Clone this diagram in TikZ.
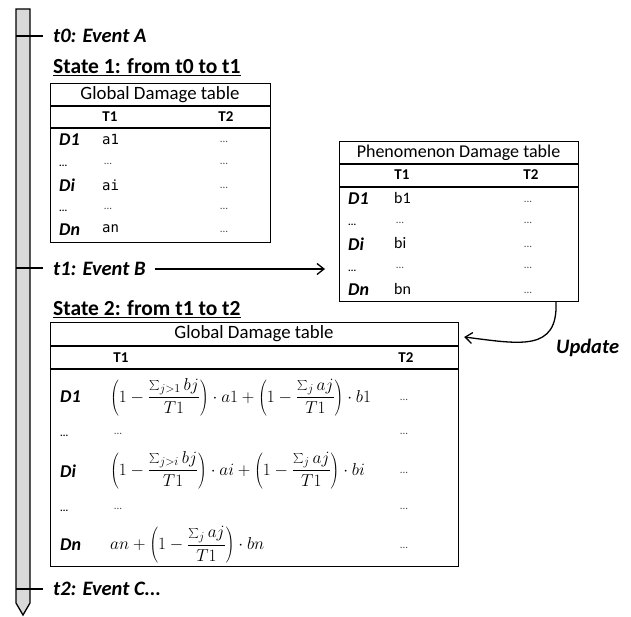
\documentclass[tikz,border=0pt]{standalone}
\usepackage{fontspec}
\setmainfont{Carlito}
\newfontfamily\monof{DejaVu Sans Mono}
\usetikzlibrary{arrows.meta}
\begin{document}
\begin{tikzpicture}[x=1pt,y=-1pt,
  lbl/.style={font=\fontsize{20.5}{23}\selectfont\bfseries\itshape, anchor=west, inner sep=0},
  stlbl/.style={font=\fontsize{21.5}{24}\selectfont\bfseries, anchor=west, inner sep=0},
  tbox/.style={draw, line width=1.2pt, anchor=north west, inner sep=0},
  tline/.style={line width=1.2pt},
  ttl/.style={font=\fontsize{18.8}{20}\selectfont, inner sep=0},
  hdr/.style={font=\fontsize{15}{17}\selectfont\bfseries, inner sep=0},
  dl/.style={font=\fontsize{18}{20}\selectfont\bfseries\itshape, anchor=west, inner sep=0},
  ddots/.style={font=\fontsize{10}{12}\selectfont\bfseries, anchor=west, inner sep=0},
  av/.style={font=\monof\fontsize{14}{16}\selectfont, anchor=west, inner sep=0},
  bv/.style={font=\fontsize{16}{18}\selectfont, anchor=west, inner sep=0},
  vdots/.style={font=\fontsize{11}{13}\selectfont, inner sep=0, text=black!70},
  fm/.style={font=\fontsize{17.3}{19}\selectfont, anchor=west, inner sep=0},
  arr/.style={-{Straight Barb[length=7pt,width=11pt]}, line width=1.3pt},
]
\useasboundingbox (0,0) rectangle (631,617);

% timeline bar
\draw[fill=black!15, line width=1.3pt] (16,9) -- (30,9) -- (30,603) -- (23,615) -- (16,603) -- cycle;
\draw[line width=1.3pt] (16,36) -- (43,36);
\draw[line width=1.3pt] (16,268) -- (43,268);
\draw[line width=1.3pt] (16,589) -- (43,589);

% labels
\node[lbl] (evA) at (53,36) {t0: Event A};
\node[stlbl] (st1) at (53,67) {\underline{State 1: from t0 to t1}};
\node[lbl] (evB) at (53,269) {t1: Event B};
\node[stlbl] (st2) at (53,309) {\underline{State 2: from t1 to t2}};
\node[lbl] (evC) at (53,589) {t2: Event C...};

% Global damage table 1
\node[tbox, minimum width=220pt, minimum height=159pt] (g1) at (50,83) {};
\draw[tline] (g1.west |- 0,106) -- (g1.east |- 0,106);
\draw[tline] (g1.west |- 0,128) -- (g1.east |- 0,128);
\node[ttl] (g1t) at (160,94.5) {Global Damage table};
\node[hdr] (g1h1) at (110,117) {T1};
\node[hdr] (g1h2) at (226,117) {T2};
\node[dl] (g1d1) at (59,140) {D1};
\node[ddots] (g1d2) at (59,166) {...};
\node[dl] (g1d3) at (59,185) {Di};
\node[ddots] (g1d4) at (59,211) {...};
\node[dl] (g1d5) at (59,230) {Dn};
\node[av] (g1a1) at (102,139) {a1};
\node[vdots] (g1a2) at (108,164) {...};
\node[av] (g1a3) at (102,185) {ai};
\node[vdots] (g1a4) at (108,209) {...};
\node[av] (g1a5) at (102,229) {an};
\node[vdots] (g1b1) at (224,142) {...};
\node[vdots] (g1b2) at (224,164) {...};
\node[vdots] (g1b3) at (224,188) {...};
\node[vdots] (g1b4) at (224,209) {...};
\node[vdots] (g1b5) at (224,232) {...};

% Phenomenon damage table
\node[tbox, minimum width=239pt, minimum height=160pt] (ph) at (339,141) {};
\draw[tline] (ph.west |- 0,164) -- (ph.east |- 0,164);
\draw[tline] (ph.west |- 0,187) -- (ph.east |- 0,187);
\node[ttl, font=\fontsize{18}{20}\selectfont] (pht) at (458.5,153) {Phenomenon Damage table};
\node[hdr] (phh1) at (402,175) {T1};
\node[hdr] (phh2) at (531,175) {T2};
\node[dl] (phd1) at (348,199) {D1};
\node[ddots] (phd2) at (348,225) {...};
\node[dl] (phd3) at (348,244) {Di};
\node[ddots] (phd4) at (348,271) {...};
\node[dl] (phd5) at (348,290) {Dn};
\node[bv] (pha1) at (394,198) {b1};
\node[vdots] (pha2) at (400,223) {...};
\node[bv] (pha3) at (394,243) {bi};
\node[vdots] (pha4) at (400,268) {...};
\node[bv] (pha5) at (394,289) {bn};
\node[vdots] (phb1) at (528,202) {...};
\node[vdots] (phb2) at (528,223) {...};
\node[vdots] (phb3) at (528,247) {...};
\node[vdots] (phb4) at (528,268) {...};
\node[vdots] (phb5) at (528,293) {...};

% Global damage table 2
\node[tbox, minimum width=408pt, minimum height=244pt] (g2) at (50,322) {};
\draw[tline] (g2.west |- 0,346) -- (g2.east |- 0,346);
\draw[tline] (g2.west |- 0,369) -- (g2.east |- 0,369);
\node[ttl] (g2t) at (254,334) {Global Damage table};
\node[hdr] (g2h1) at (121,358) {T1};
\node[hdr] (g2h2) at (406,358) {T2};
\node[dl] (g2d1) at (60,397) {D1};
\node[ddots] (g2d2) at (60,436) {...};
\node[dl] (g2d3) at (60,471) {Di};
\node[ddots] (g2d4) at (60,511) {...};
\node[dl] (g2d5) at (60,545) {Dn};
\node[fm] (g2a1) at (110,397) {$\displaystyle\left(1-\frac{\sum_{j>1}bj}{T1}\right)\cdot a1+\left(1-\frac{\sum_{j}aj}{T1}\right)\cdot b1$};
\node[vdots] (g2a2) at (118,434) {...};
\node[fm] (g2a3) at (110,470) {$\displaystyle\left(1-\frac{\sum_{j>i}bj}{T1}\right)\cdot ai+\left(1-\frac{\sum_{j}aj}{T1}\right)\cdot bi$};
\node[vdots] (g2a4) at (118,509) {...};
\node[fm] (g2a5) at (110,545) {$\displaystyle an+\left(1-\frac{\sum_{j}aj}{T1}\right)\cdot bn$};
\node[vdots] (g2b1) at (404,400) {...};
\node[vdots] (g2b2) at (404,434) {...};
\node[vdots] (g2b3) at (404,473) {...};
\node[vdots] (g2b4) at (404,509) {...};
\node[vdots] (g2b5) at (404,548) {...};

% arrows
\draw[arr, shorten <=9pt, shorten >=14pt] (evB.east) -- (evB.east -| ph.west);
\coordinate (upS) at (ph.south -| 556,0);
\coordinate (upE) at ([xshift=5pt]g2.east |- 0,337);
\draw[arr] (upS) .. controls (558,352) and (520,344) .. (upE);
\node[lbl] (upd) at (556,348) {Update};
\end{tikzpicture}
\end{document}
